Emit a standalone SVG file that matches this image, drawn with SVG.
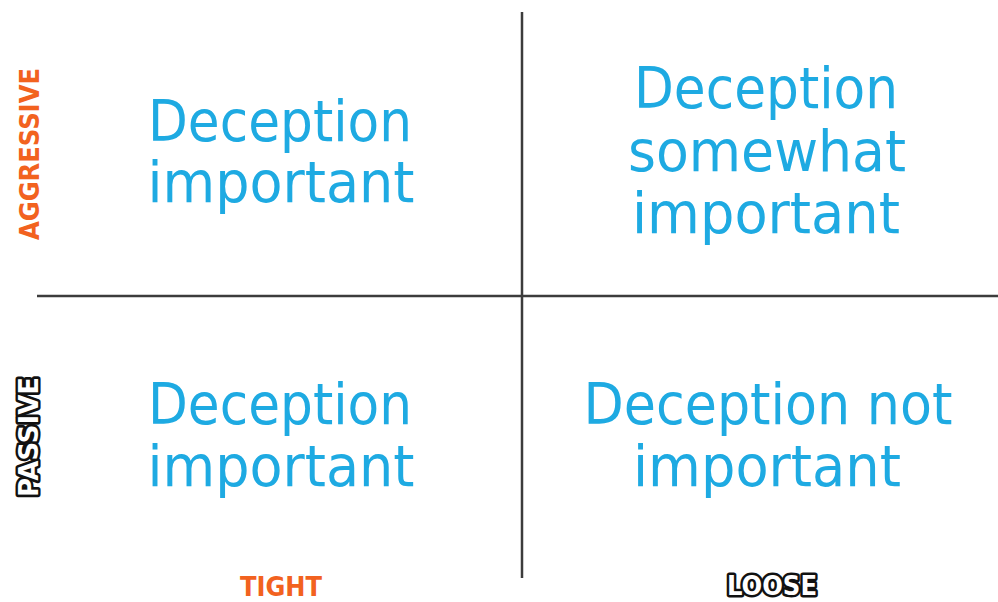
<svg xmlns="http://www.w3.org/2000/svg" width="998" height="602" viewBox="0 0 998 602">
<style>
.q{font-family:"DejaVu Sans Condensed","DejaVu Sans",sans-serif;font-stretch:condensed;font-size:57px;fill:#1eaae2;text-anchor:middle}
.ax{font-family:"DejaVu Sans Condensed","DejaVu Sans",sans-serif;font-stretch:condensed;font-weight:bold;font-size:27px;text-anchor:middle}
.or{fill:#f2621f}
.bk{fill:#fff;stroke:#111;stroke-width:5;paint-order:stroke;stroke-linejoin:round}
</style>
<rect width="998" height="602" fill="#fff"/>
<g id="connectors" stroke="#3c3c3c" stroke-width="2.5">
<line x1="522" y1="12" x2="522" y2="578"/>
<line x1="37" y1="296" x2="998" y2="296"/>
</g>
<g id="q-top-left"><text class="q" x="280" y="141" textLength="264" lengthAdjust="spacingAndGlyphs">Deception</text><text class="q" x="281" y="202" textLength="267" lengthAdjust="spacingAndGlyphs">important</text></g>
<g id="q-top-right"><text class="q" x="766" y="108" textLength="264" lengthAdjust="spacingAndGlyphs">Deception</text><text class="q" x="767" y="171" textLength="278" lengthAdjust="spacingAndGlyphs">somewhat</text><text class="q" x="766" y="233" textLength="268" lengthAdjust="spacingAndGlyphs">important</text></g>
<g id="q-bottom-left"><text class="q" x="280" y="424" textLength="264" lengthAdjust="spacingAndGlyphs">Deception</text><text class="q" x="281" y="486" textLength="267" lengthAdjust="spacingAndGlyphs">important</text></g>
<g id="q-bottom-right"><text class="q" x="768" y="424" textLength="369" lengthAdjust="spacingAndGlyphs">Deception not</text><text class="q" x="767" y="486" textLength="268" lengthAdjust="spacingAndGlyphs">important</text></g>
<g id="label-aggressive"><text class="ax or" transform="translate(39,154) rotate(-90)" textLength="172" lengthAdjust="spacingAndGlyphs">AGGRESSIVE</text></g>
<g id="label-passive"><text class="ax bk" transform="translate(38,437) rotate(-90)" textLength="120" lengthAdjust="spacingAndGlyphs">PASSIVE</text></g>
<g id="label-tight"><text class="ax or" x="281" y="596" textLength="82" lengthAdjust="spacingAndGlyphs">TIGHT</text></g>
<g id="label-loose"><text class="ax bk" x="772" y="595" textLength="90" lengthAdjust="spacingAndGlyphs">LOOSE</text></g>
</svg>
